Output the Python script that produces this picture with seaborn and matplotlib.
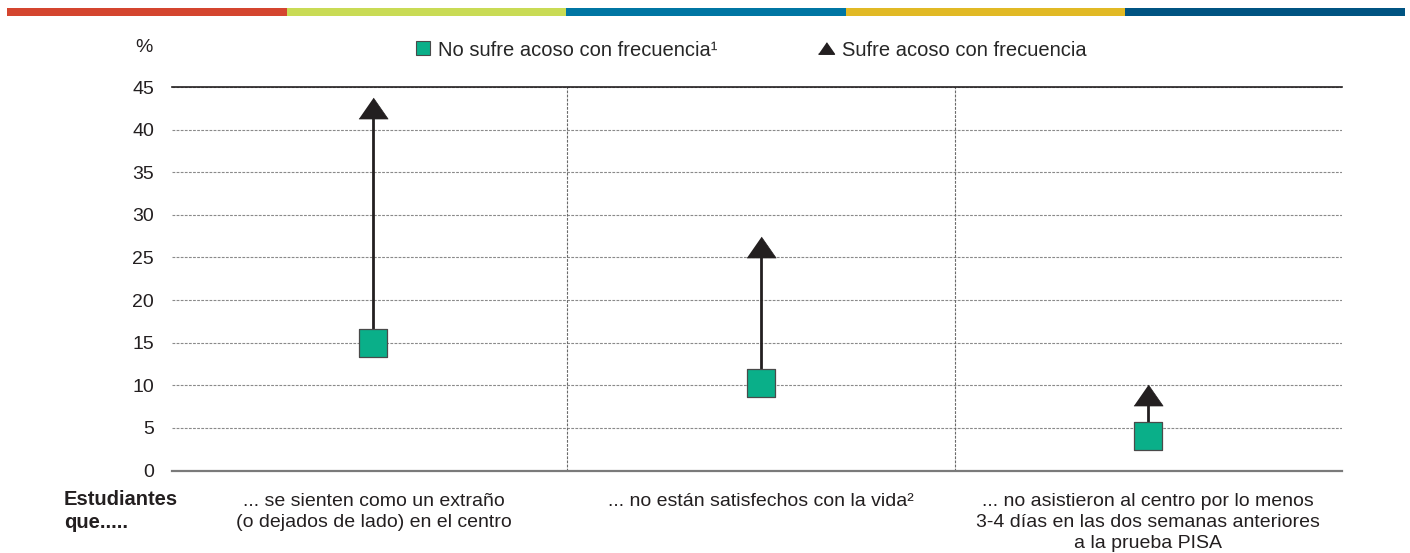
import pandas as pd
import seaborn as sns
import matplotlib.pyplot as plt
from matplotlib.lines import Line2D
from matplotlib.patches import Rectangle

# Daten
kategorien = [
    "... se sienten como un extraño\n(o dejados de lado) en el centro",
    "... no están satisfechos con la vida²",
    "... no asistieron al centro por lo menos\n3-4 días en las dos semanas anteriores\na la prueba PISA",
]
no_acoso = [15.0, 10.3, 4.0]
acoso = [42.5, 26.2, 8.9]
serien = ["No sufre acoso con frecuencia¹", "Sufre acoso con frecuencia"]
y_ticks = [0, 5, 10, 15, 20, 25, 30, 35, 40, 45]
balken_farben = ["#D4452F", "#C9DB55", "#0076A3", "#E1B925", "#005482"]

GRUEN = "#0AAF89"
DREIECK = [(-1, -0.72), (1, -0.72), (0, 0.72)]

sns.set_style("white")
plt.rcParams['font.family'] = ['Liberation Sans', 'DejaVu Sans']

df = pd.DataFrame({"Kategorie": kategorien, "no": no_acoso, "si": acoso})

fig = plt.figure(figsize=(14.1, 5.53), dpi=100)
ax = fig.add_axes([172 / 1410, 1 - 470.5 / 553, 1170 / 1410, 383.5 / 553])

# Verbindungslinien
pos = list(range(len(kategorien)))
ax.vlines(pos, df["no"], df["si"], color="#231F20", lw=2.0, zorder=2)

sns.scatterplot(data=df, x="Kategorie", y="no", marker="s", s=390, color=GRUEN,
                edgecolor="#4a4a4a", linewidth=0.9, zorder=3, ax=ax)
sns.scatterplot(data=df, x="Kategorie", y="si", marker=DREIECK, s=440, color="#231F20",
                edgecolor="#231F20", linewidth=0.5, zorder=3, ax=ax)

# Achsen
ax.set_xlim(-0.52, 2.5)
ax.set_ylim(0, 45)
ax.set_yticks(y_ticks)
ax.set_xlabel("")
ax.set_ylabel("")
ax.tick_params(axis="y", length=0, pad=13, labelsize=14, labelcolor="#231F20")
ax.tick_params(axis="x", length=0, pad=16, labelsize=14, labelcolor="#231F20")
for lbl in ax.get_xticklabels():
    lbl.set_linespacing(1.3)

ax.yaxis.grid(True, linestyle=(0, (2.5, 1.2)), color="#8a8a8a", lw=0.8)
ax.set_axisbelow(True)
for x in [0.5, 1.5]:
    ax.axvline(x, linestyle=(0, (2.5, 1.2)), color="#6a6a6a", lw=0.8, zorder=1)

for s in ["left", "right"]:
    ax.spines[s].set_visible(False)
ax.spines["top"].set_color("#231F20")
ax.spines["top"].set_linewidth(1.2)
ax.spines["bottom"].set_color("#7a7a7a")
ax.spines["bottom"].set_linewidth(1.6)

# "%" über der y-Achse
fig.text(153 / 1410, 1 - 48 / 553, "%", ha="right", va="center", fontsize=14, color="#231F20")

# Zeilenbeschriftung links
fig.text(64 / 1410, 1 - 490 / 553, "Estudiantes\nque.....", ha="left", va="top",
         fontsize=14.5, fontweight="bold", color="#231F20", linespacing=1.3)

# Legende
handles = [
    Line2D([], [], marker="s", ls="", ms=10, markerfacecolor=GRUEN, markeredgecolor="#4a4a4a", markeredgewidth=0.8),
    Line2D([], [], marker=DREIECK, ls="", ms=11.5, markerfacecolor="#231F20", markeredgecolor="#231F20"),
]
fig.legend(handles, serien, loc="center left", bbox_to_anchor=(413 / 1410, 1 - 50 / 553),
           ncol=2, frameon=False, fontsize=14.5, handlelength=1.0, handletextpad=0.25,
           columnspacing=4.9, borderpad=0, borderaxespad=0)

# Farbleiste oben
breite = (1405 - 7) / len(balken_farben)
for i, farbe in enumerate(balken_farben):
    fig.add_artist(Rectangle(((7 + i * breite) / 1410, 1 - 16 / 553), breite / 1410, 8 / 553,
                             transform=fig.transFigure, color=farbe, lw=0))

plt.savefig("out.png", dpi=100)
plt.close()
